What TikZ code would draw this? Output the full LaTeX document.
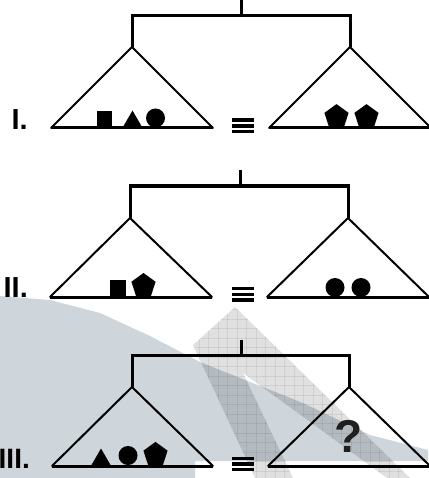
\documentclass[tikz,border=0pt]{standalone}
\usepackage{fontspec}
\setmainfont{Liberation Sans}
\usetikzlibrary{shapes.geometric}
\definecolor{wmgrey}{RGB}{206,213,219}
\begin{document}
\begin{tikzpicture}[x=1pt,y=-1pt,
  barline/.style={line width=3pt,line join=miter,line cap=butt},
  sideline/.style={line width=2pt,line cap=round},
  baseline/.style={line width=3pt,line cap=butt},
  eqbar/.style={line width=3.2pt},
  rowlabel/.style={anchor=base east,inner sep=0pt,font=\fontsize{29}{29}\selectfont\bfseries},
  sq/.style={rectangle,fill=black,inner sep=0pt,draw=none},
  pent/.style={regular polygon,regular polygon sides=5,minimum size=25.4pt,fill=black,inner sep=0pt,draw=none},
  tri/.style={regular polygon,regular polygon sides=3,minimum size=22pt,fill=black,inner sep=0pt,draw=none},
  dot/.style={circle,minimum size=19pt,fill=black,inner sep=0pt,draw=none}]
\useasboundingbox (0,0) rectangle (428,478);
\fill[white] (0,0) rectangle (428,478);
% watermark
\fill[wmgrey] (0,296) -- (50,300) -- (100,313) -- (150,336) -- (200,362) -- (240,378)
  -- (303,403) -- (370,435) -- (428,450) -- (428,461) -- (195,461) -- (195,478) -- (0,478) -- cycle;
\begin{scope}
  \clip (235,307) -- (410,478) -- (387,478) -- (243,373) -- (293,478) -- (255,478) -- (193,345) -- cycle;
  \fill[black,opacity=0.12] (180,300) rectangle (428,478);
  \foreach \g in {0,...,26}{
    \draw[black,opacity=0.07,line width=0.6pt] (180+9.5*\g,300) -- (180+9.5*\g,478);
    \draw[black,opacity=0.07,line width=0.6pt] (180,300+9.5*\g) -- (428,300+9.5*\g);
  }
\end{scope}

% ---------- Row I ----------
\coordinate (s1) at (241,0);
\coordinate (j1) at (241,15.5);
\coordinate (l1) at (132,47);
\coordinate (r1) at (350,47);
\coordinate (lb1a) at (51,128);
\coordinate (lb1b) at (213,128);
\coordinate (rb1a) at (269,128);
\coordinate (rb1b) at (431,128);
\draw[barline] (s1) -- (j1);
\draw[barline] (l1) -- (l1 |- j1) -- (r1 |- j1) -- (r1);
\draw[sideline] (lb1a) -- (l1) -- (lb1b);
\draw[sideline] (rb1a) -- (r1) -- (rb1b);
\draw[baseline] (lb1a) -- (lb1b);
\draw[baseline] (rb1a) -- (rb1b);
\node[rowlabel] (lab1) at (28,130) {I.};
\node[sq,minimum width=15pt,minimum height=16pt] (a1) at (104.5,119) {};
\node[tri] (a2) at (132.5,121.5) {};
\node[dot] (a3) at (155.5,118) {};
\node[pent] (a4) at (336.5,116.8) {};
\node[pent] (a5) at (366.5,116.8) {};
\foreach \yy in {120,126,131.8}{\draw[eqbar] (232,\yy) -- (254,\yy);}

% ---------- Row II ----------
\coordinate (s2) at (240,170);
\coordinate (j2) at (240,186);
\coordinate (l2) at (130,218);
\coordinate (r2) at (348,218);
\coordinate (lb2a) at (50,297);
\coordinate (lb2b) at (212,297);
\coordinate (rb2a) at (267,297);
\coordinate (rb2b) at (429,297);
\draw[barline] (s2) -- (j2);
\draw[barline] (l2) -- (l2 |- j2) -- (r2 |- j2) -- (r2);
\draw[sideline] (lb2a) -- (l2) -- (lb2b);
\draw[sideline] (rb2a) -- (r2) -- (rb2b);
\draw[baseline] (lb2a) -- (lb2b);
\draw[baseline] (rb2a) -- (rb2b);
\node[rowlabel] (lab2) at (28,297) {II.};
\node[sq,minimum width=16pt,minimum height=16pt] (b1) at (117.5,288) {};
\node[pent] (b2) at (143.5,285.7) {};
\node[dot] (b3) at (335,287.5) {};
\node[dot] (b4) at (361,287.5) {};
\foreach \yy in {288.5,294.2,300}{\draw[eqbar] (232,\yy) -- (254,\yy);}

% ---------- Row III ----------
\coordinate (s3) at (241,340);
\coordinate (j3) at (241,355);
\coordinate (l3) at (132,387);
\coordinate (r3) at (349,387);
\coordinate (lb3a) at (52,466);
\coordinate (lb3b) at (213,466);
\coordinate (rb3a) at (268,466);
\coordinate (rb3b) at (430,466);
\draw[barline] (s3) -- (j3);
\draw[barline] (l3) -- (l3 |- j3) -- (r3 |- j3) -- (r3);
\draw[sideline] (lb3a) -- (l3) -- (lb3b);
\draw[sideline] (rb3a) -- (r3) -- (rb3b);
\draw[baseline] (lb3a) -- (lb3b);
\draw[baseline] (rb3a) -- (rb3b);
\node[rowlabel,font=\fontsize{28}{28}\selectfont\bfseries] (lab3) at (30,468) {III.};
\node[tri] (c1) at (101,459.5) {};
\node[dot] (c2) at (128,455.5) {};
\node[pent] (c3) at (155.5,454.6) {};
\foreach \yy in {458.5,464,469.6}{\draw[eqbar] (232,\yy) -- (254,\yy);}
\node[anchor=base,inner sep=0pt,font=\fontsize{46}{46}\selectfont\bfseries,text=black!88] (q) at (348.5,452) {?};
\end{tikzpicture}
\end{document}
